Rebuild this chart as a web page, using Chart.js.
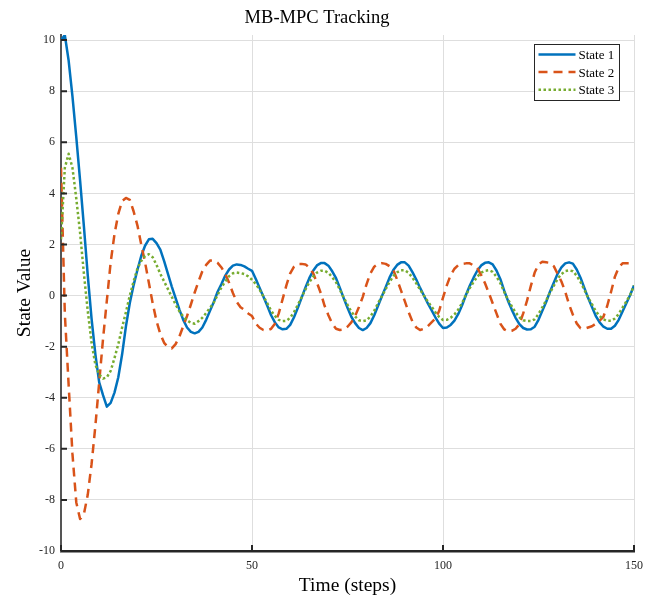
<!DOCTYPE html>
<html>
<head>
<meta charset="utf-8">
<title>MB-MPC Tracking</title>
<script src="https://cdn.jsdelivr.net/npm/chart.js@4"></script>
<style>
  body { margin: 0; background: #fff; }
  #wrap { width: 655px; height: 599px; }
</style>
</head>
<body>
<div id="wrap"><canvas id="trackingChart" width="655" height="599"></canvas></div>
<script>
// --- Data (one value per time step, 0..150) ---
const state1 = [
  10.0, 10.2, 9.2, 7.8, 6.2, 4.5, 2.7, 0.8, -0.9, -2.3,
  -3.4, -3.9, -4.35, -4.2, -3.8, -3.2, -2.3, -1.2, -0.3, 0.4,
  1.0, 1.55, 1.95, 2.2, 2.22, 2.05, 1.8, 1.35, 0.85, 0.35,
  -0.1, -0.55, -0.95, -1.25, -1.42, -1.48, -1.42, -1.25, -0.95, -0.6,
  -0.25, 0.15, 0.45, 0.78, 1.02, 1.17, 1.22, 1.2, 1.14, 1.05,
  0.97, 0.65, 0.3, -0.05, -0.4, -0.77, -1.05, -1.25, -1.32, -1.3,
  -1.15, -0.85, -0.48, -0.08, 0.32, 0.68, 0.97, 1.18, 1.27, 1.27,
  1.17, 0.95, 0.68, 0.3, -0.1, -0.48, -0.83, -1.08, -1.27, -1.35,
  -1.27, -1.08, -0.77, -0.4, -0.03, 0.33, 0.7, 1.0, 1.2, 1.3,
  1.3, 1.17, 0.92, 0.63, 0.3, 0.0, -0.3, -0.57, -0.85, -1.1,
  -1.27, -1.25, -1.15, -0.98, -0.72, -0.38, 0.02, 0.38, 0.7, 0.98,
  1.18, 1.28, 1.3, 1.22, 0.98, 0.65, 0.2, -0.2, -0.55, -0.87,
  -1.12, -1.27, -1.33, -1.32, -1.22, -0.95, -0.6, -0.25, 0.15, 0.5,
  0.85, 1.1, 1.26, 1.3, 1.25, 1.02, 0.7, 0.3, -0.1, -0.45,
  -0.8, -1.05, -1.22, -1.3, -1.3, -1.18, -0.95, -0.62, -0.3, 0.02,
  0.4
];
const state2 = [
  5.0, -0.7, -3.5, -6.2, -8.1, -8.75, -8.55, -7.8, -6.6, -5.1,
  -3.4, -1.7, -0.2, 1.3, 2.4, 3.2, 3.7, 3.82, 3.75, 3.3,
  2.75, 2.0, 1.3, 0.5, -0.3, -1.0, -1.5, -1.85, -2.02, -2.07,
  -1.9, -1.6, -1.2, -0.8, -0.35, 0.12, 0.55, 0.95, 1.2, 1.37,
  1.38, 1.28, 1.1, 0.85, 0.5, 0.1, -0.25, -0.46, -0.56, -0.7,
  -0.8, -1.1, -1.26, -1.35, -1.37, -1.3, -1.1, -0.7, -0.15, 0.4,
  0.87, 1.13, 1.24, 1.24, 1.22, 1.1, 0.88, 0.5, 0.1, -0.4,
  -0.77, -1.1, -1.3, -1.35, -1.33, -1.22, -1.05, -0.8, -0.45, -0.05,
  0.45, 0.87, 1.13, 1.24, 1.27, 1.24, 1.15, 1.0, 0.62, 0.2,
  -0.22, -0.65, -1.02, -1.25, -1.35, -1.3, -1.2, -1.05, -0.9, -0.6,
  -0.08, 0.4, 0.8, 1.05, 1.19, 1.24, 1.26, 1.26, 1.18, 1.08,
  0.8, 0.48, 0.1, -0.3, -0.7, -1.1, -1.32, -1.4, -1.38, -1.3,
  -1.12, -0.7, -0.2, 0.38, 0.9, 1.22, 1.32, 1.3, 1.28, 1.15,
  0.85, 0.55, 0.15, -0.35, -0.75, -1.09, -1.28, -1.3, -1.25, -1.2,
  -1.1, -0.98, -0.83, -0.4, 0.15, 0.74, 1.1, 1.26, 1.26, 1.26,
  1.27
];
const state3 = [
  2.2, 5.0, 5.55, 5.0, 3.8, 2.45, 0.85, -0.6, -1.85, -2.7,
  -3.1, -3.25, -3.2, -2.95, -2.45, -1.9, -1.25, -0.65, 0.0, 0.55,
  1.05, 1.35, 1.55, 1.62, 1.5, 1.2, 0.85, 0.55, 0.25, -0.05,
  -0.35, -0.62, -0.82, -0.97, -1.07, -1.1, -1.0, -0.87, -0.68, -0.48,
  -0.27, 0.02, 0.32, 0.55, 0.76, 0.87, 0.9, 0.88, 0.84, 0.75,
  0.62, 0.45, 0.23, -0.04, -0.3, -0.59, -0.8, -0.95, -1.0, -0.99,
  -0.87, -0.65, -0.36, -0.06, 0.24, 0.52, 0.74, 0.9, 0.97, 0.97,
  0.89, 0.72, 0.52, 0.23, -0.08, -0.36, -0.63, -0.82, -0.97, -1.0,
  -0.97, -0.82, -0.59, -0.3, -0.02, 0.25, 0.53, 0.76, 0.91, 0.99,
  0.99, 0.89, 0.7, 0.48, 0.23, 0.0, -0.23, -0.43, -0.65, -0.84,
  -0.96, -0.95, -0.87, -0.74, -0.55, -0.29, 0.02, 0.29, 0.53, 0.74,
  0.9, 0.97, 0.99, 0.93, 0.74, 0.49, 0.15, -0.15, -0.42, -0.66,
  -0.85, -0.97, -1.0, -1.0, -0.93, -0.72, -0.46, -0.19, 0.11, 0.38,
  0.65, 0.84, 0.96, 0.99, 0.95, 0.78, 0.53, 0.23, -0.08, -0.34,
  -0.61, -0.8, -0.93, -0.99, -0.99, -0.9, -0.72, -0.47, -0.23, 0.02,
  0.4
];
const seriesLabels = ['State 1', 'State 2', 'State 3'];
const xTicks = [0, 50, 100, 150];
const yTicks = [-10, -8, -6, -4, -2, 0, 2, 4, 6, 8, 10];

const steps = state1.map((_, i) => i);
const toPoints = arr => arr.map((v, i) => ({ x: steps[i], y: v }));

const serif = "'Liberation Serif', 'DejaVu Serif', serif";
const gridColor = '#dedede';
const axisColor = '#262626';

// MATLAB-style ticks pointing into the axes
const innerTicks = {
  id: 'innerTicks',
  afterDatasetsDraw(chart) {
    const { ctx, chartArea, scales } = chart;
    ctx.save();
    ctx.strokeStyle = axisColor;
    ctx.lineWidth = 2;
    ctx.beginPath();
    yTicks.forEach(v => {
      const py = scales.y.getPixelForValue(v);
      ctx.moveTo(chartArea.left, py);
      ctx.lineTo(chartArea.left + 6, py);
    });
    xTicks.forEach(v => {
      const px = scales.x.getPixelForValue(v);
      ctx.moveTo(px, chartArea.bottom);
      ctx.lineTo(px, chartArea.bottom - 6);
    });
    ctx.stroke();
    ctx.restore();
  }
};

// legend box in the upper right corner of the axes
const boxLegend = {
  id: 'boxLegend',
  afterDraw(chart) {
    const { ctx } = chart;
    const bx = 534.5, by = 44.5, bw = 85, bh = 56;
    ctx.save();
    ctx.fillStyle = '#fff';
    ctx.fillRect(bx, by, bw, bh);
    ctx.strokeStyle = axisColor;
    ctx.lineWidth = 1;
    ctx.strokeRect(bx, by, bw, bh);
    chart.data.datasets.forEach((ds, i) => {
      const y = by + 10 + i * 17.6;
      ctx.strokeStyle = ds.borderColor;
      ctx.lineWidth = ds.borderWidth;
      ctx.setLineDash(ds.borderDash || []);
      ctx.beginPath();
      ctx.moveTo(bx + 4, y);
      ctx.lineTo(bx + 41, y);
      ctx.stroke();
      ctx.setLineDash([]);
      ctx.fillStyle = '#000';
      ctx.font = "13px " + serif;
      ctx.textBaseline = 'middle';
      ctx.fillText(ds.label, bx + 44, y + 1);
    });
    ctx.restore();
  }
};

new Chart(document.getElementById('trackingChart'), {
  type: 'line',
  data: {
    datasets: [{
      label: seriesLabels[0],
      data: toPoints(state1),
      borderColor: '#0072BD',
      borderWidth: 2.5,
      order: 3
    }, {
      label: seriesLabels[1],
      data: toPoints(state2),
      borderColor: '#D95319',
      borderWidth: 2.5,
      borderDash: [9, 6],
      order: 2
    }, {
      label: seriesLabels[2],
      data: toPoints(state3),
      borderColor: '#77AC30',
      borderWidth: 2.5,
      borderDash: [2.5, 2.5],
      order: 1
    }]
  },
  options: {
    responsive: false,
    animation: false,
    devicePixelRatio: 1,
    layout: { padding: { top: 0, right: 21, bottom: 0, left: 0 } },
    elements: {
      point: { radius: 0 },
      line: { tension: 0, borderJoinStyle: 'round', fill: false }
    },
    plugins: {
      legend: { display: false },
      tooltip: { enabled: false },
      title: {
        display: true,
        text: 'MB-MPC Tracking',
        color: '#000',
        font: { family: serif, size: 18.5, weight: 'normal' },
        padding: { top: 7, bottom: 5.8 }
      }
    },
    scales: {
      x: {
        type: 'linear',
        min: 0,
        max: 150,
        afterBuildTicks: s => { s.ticks = xTicks.map(v => ({ value: v })); },
        afterFit: s => { s.height = 48; },
        grid: { color: gridColor, lineWidth: 1, drawTicks: false },
        border: { color: axisColor, width: 2.5 },
        ticks: {
          color: axisColor,
          padding: 8,
          maxRotation: 0,
          font: { family: serif, size: 12 }
        },
        title: {
          display: true,
          text: 'Time (steps)',
          color: '#000',
          font: { family: serif, size: 19.5 },
          padding: { top: 0, bottom: 1 }
        }
      },
      y: {
        min: -10,
        max: 10.2,
        afterBuildTicks: s => { s.ticks = yTicks.map(v => ({ value: v })); },
        afterFit: s => { s.width = 61; },
        grid: { color: gridColor, lineWidth: 1, drawTicks: false },
        border: { color: '#555', width: 2 },
        ticks: {
          color: axisColor,
          padding: 6,
          font: { family: serif, size: 12 }
        },
        title: {
          display: true,
          text: 'State Value',
          color: '#000',
          font: { family: serif, size: 19.5 },
          padding: { top: 13, bottom: 0 }
        }
      }
    }
  },
  plugins: [innerTicks, boxLegend]
});
</script>
</body>
</html>
